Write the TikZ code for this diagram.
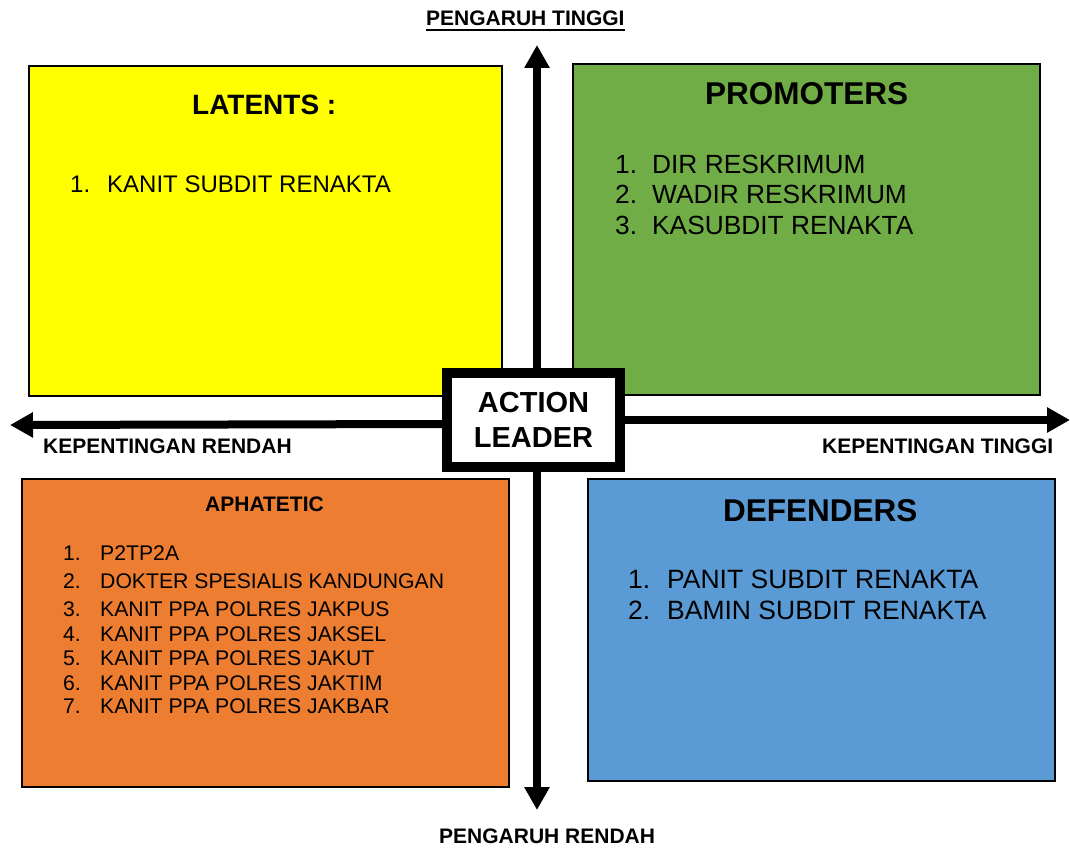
\documentclass[tikz,border=0pt]{standalone}
\usepackage{fontspec}
\setmainfont{Liberation Sans}
\usetikzlibrary{arrows.meta}
\definecolor{qyellow}{HTML}{FFFF00}
\definecolor{qgreen}{HTML}{70AD47}
\definecolor{qorange}{HTML}{ED7D31}
\definecolor{qblue}{HTML}{5B9BD5}
\newcommand{\fs}[1]{\fontsize{#1}{#1}\selectfont}
\newcommand{\itm}[3]{\makebox[#1pt][l]{#2}#3}
\tikzset{
  quad/.style={draw=black, line width=1.6pt, inner sep=0pt},
  ttl/.style={anchor=base west, inner sep=0pt, font=\bfseries\fs{31.5}},
  axlab/.style={anchor=base west, inner sep=0pt, font=\bfseries\fs{21}},
  item/.style={anchor=base west, inner sep=0pt},
  axis/.style={line width=8pt, -{Triangle[width=24pt,length=23pt]}},
  actbox/.style={draw=black, line width=10pt, fill=white, minimum width=173pt, minimum height=94pt, inner sep=0pt, align=center, font=\bfseries\fontsize{29}{35}\selectfont},
}
\begin{document}
\begin{tikzpicture}[x=1pt,y=-1pt]
\useasboundingbox (0,0) rectangle (1070,848);
% quadrant boxes
\node[quad, fill=qyellow, minimum width=473pt, minimum height=330pt] (lat) at (265.5,231) {};
\node[quad, fill=qgreen, minimum width=467pt, minimum height=331pt] (pro) at (806.5,229.5) {};
\node[quad, fill=qorange, minimum width=487pt, minimum height=308pt] (aph) at (265.5,633) {};
\node[quad, fill=qblue, minimum width=467pt, minimum height=302pt] (def) at (821.5,630) {};
% central box
\node[actbox] (act) at (533.5,420) {ACTION\\LEADER};
% axes
\coordinate (top) at (537,45);
\coordinate (bot) at (537,810);
\coordinate (lft) at (10,425);
\coordinate (rgt) at (1070,420);
\draw[axis] (act.north -| top) -- (top);
\draw[axis] (act.south -| bot) -- (bot);
\draw[axis] (act.west) ++(0,4) coordinate (aw) (aw) -- (lft);
\draw[axis] (act.east) -- (rgt);
% axis labels
\node[axlab] (pt) at (426,26) {PENGARUH TINGGI};
\draw[line width=2pt] ([yshift=-4pt]pt.base west) -- ([yshift=-4pt]pt.base east);
\node[axlab] (pr) at (439,843) {PENGARUH RENDAH};
\node[axlab] (kr) at (43,453) {KEPENTINGAN RENDAH};
\node[axlab] (kt) at (822,453) {KEPENTINGAN TINGGI};
% titles
\node[ttl, font=\bfseries\fs{28}] (latt) at (192,115) {LATENTS :};
\node[ttl] (prot) at (705,105) {PROMOTERS};
\node[ttl] (deft) at (723,521) {DEFENDERS};
\node[ttl, font=\bfseries\fs{21}] (apht) at (205,511) {APHATETIC};
% latents items
\node[item, font=\fs{24}] (l1) at (70,192) {\itm{37}{1.}{KANIT SUBDIT RENAKTA}};
% promoters items
\node[item, font=\fs{26.3}] (p1) at (615,173) {\itm{37}{1.}{DIR RESKRIMUM}};
\node[item, font=\fs{26.3}] (p2) at (615,203) {\itm{37}{2.}{WADIR RESKRIMUM}};
\node[item, font=\fs{26.3}] (p3) at (615,234) {\itm{37}{3.}{KASUBDIT RENAKTA}};
% defenders items
\node[item, font=\fs{26.5}] (d1) at (628,588) {\itm{39}{1.}{PANIT SUBDIT RENAKTA}};
\node[item, font=\fs{26.5}] (d2) at (628,619) {\itm{39}{2.}{BAMIN SUBDIT RENAKTA}};
% aphatetic items
\node[item, font=\fs{21.2}] (a1) at (63,560) {\itm{37}{1.}{P2TP2A}};
\node[item, font=\fs{21.2}] (a2) at (63,588) {\itm{37}{2.}{DOKTER SPESIALIS KANDUNGAN}};
\node[item, font=\fs{21.2}] (a3) at (63,616) {\itm{37}{3.}{KANIT PPA POLRES JAKPUS}};
\node[item, font=\fs{21.2}] (a4) at (63,641) {\itm{37}{4.}{KANIT PPA POLRES JAKSEL}};
\node[item, font=\fs{21.2}] (a5) at (63,665) {\itm{37}{5.}{KANIT PPA POLRES JAKUT}};
\node[item, font=\fs{21.2}] (a6) at (63,690) {\itm{37}{6.}{KANIT PPA POLRES JAKTIM}};
\node[item, font=\fs{21.2}] (a7) at (63,713) {\itm{37}{7.}{KANIT PPA POLRES JAKBAR}};
\end{tikzpicture}
\end{document}
